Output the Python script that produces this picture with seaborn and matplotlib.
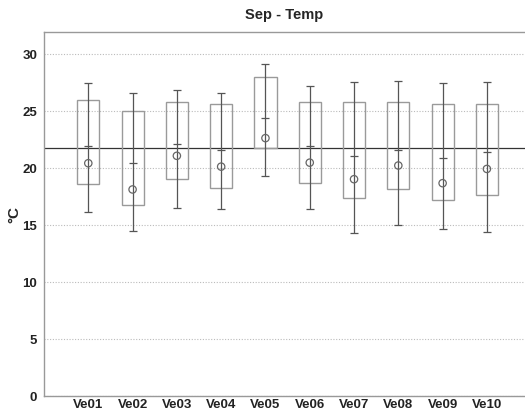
import matplotlib
matplotlib.use("Agg")
import matplotlib.pyplot as plt
import seaborn as sns
import pandas as pd

stations = ["Ve01", "Ve02", "Ve03", "Ve04", "Ve05", "Ve06", "Ve07", "Ve08", "Ve09", "Ve10"]
whisk_low = [16.1, 14.45, 16.5, 16.35, 19.3, 16.4, 14.3, 14.97, 14.6, 14.35]
q1 = [18.6, 16.75, 19.0, 18.2, 21.7, 18.7, 17.35, 18.1, 17.2, 17.65]
median = [21.95, 20.4, 22.1, 21.55, 24.4, 21.9, 21.0, 21.55, 20.9, 21.35]
mean = [20.4, 18.1, 21.05, 20.1, 22.6, 20.45, 19.0, 20.2, 18.65, 19.9]
q3 = [25.9, 24.97, 25.8, 25.6, 28.0, 25.75, 25.75, 25.75, 25.6, 25.6]
whisk_high = [27.4, 26.55, 26.8, 26.55, 29.1, 27.2, 27.5, 27.6, 27.4, 27.5]
ref_line = 21.7
title = "Sep - Temp"
ylabel = "°C"
yticks = [0, 5, 10, 15, 20, 25, 30]

df = pd.DataFrame({"station": stations, "mean": mean})

sns.set_style("white")
plt.rcParams["font.family"] = ["Liberation Sans", "DejaVu Sans"]

fig = plt.figure(figsize=(5.25, 4.14), dpi=100)
ax = fig.add_axes([44 / 525, 17 / 414, 1 - 44 / 525, (397 - 33) / 414])

pos = list(range(len(stations)))
ax.set_ylim(0, 31.9)
ax.set_xlim(-1, 9.86)
ax.set_yticks(yticks)
ax.yaxis.grid(True, linestyle=(0, (1, 1.5)), color="#bbbbbb", linewidth=0.8)
ax.set_axisbelow(True)

ax.axhline(ref_line, color="#333333", linewidth=0.9, zorder=2)

# boxes
ax.bar(pos, [h - l for h, l in zip(q3, q1)], bottom=q1, width=0.5,
       facecolor="none", edgecolor="#9a9a9a", linewidth=1.0, zorder=3)
# whisker lines through
ax.vlines(pos, whisk_low, whisk_high, color="#555555", linewidth=0.9, zorder=4)
# caps
ax.hlines(whisk_low, [p - 0.09 for p in pos], [p + 0.09 for p in pos], color="#555555", linewidth=0.9, zorder=4)
ax.hlines(whisk_high, [p - 0.09 for p in pos], [p + 0.09 for p in pos], color="#555555", linewidth=0.9, zorder=4)
ax.hlines(median, [p - 0.09 for p in pos], [p + 0.09 for p in pos], color="#555555", linewidth=0.9, zorder=4)

sns.scatterplot(data=df, x="station", y="mean", ax=ax, marker="o", s=28,
                facecolor="none", edgecolor="#666666", linewidth=0.9, zorder=5)

ax.set_xticks(pos)
ax.set_xticklabels(stations, fontsize=9.5, fontweight="bold", color="#222222")
ax.set_yticklabels([str(t) for t in yticks], fontsize=9.5, fontweight="bold", color="#222222")
ax.tick_params(axis="x", length=0, pad=1.5)
ax.tick_params(axis="y", length=0, pad=5)
ax.set_xlabel("")
ax.set_ylabel(ylabel, fontsize=11, fontweight="bold")
ax.yaxis.set_label_coords(-0.048, 0.5)
ax.set_title(title, fontsize=10.5, fontweight="bold", pad=10)

for s in ["left", "bottom", "top"]:
    ax.spines[s].set_color("#999999")
    ax.spines[s].set_linewidth(1.0)
ax.spines["right"].set_visible(False)

fig.savefig("out.png", dpi=100)
